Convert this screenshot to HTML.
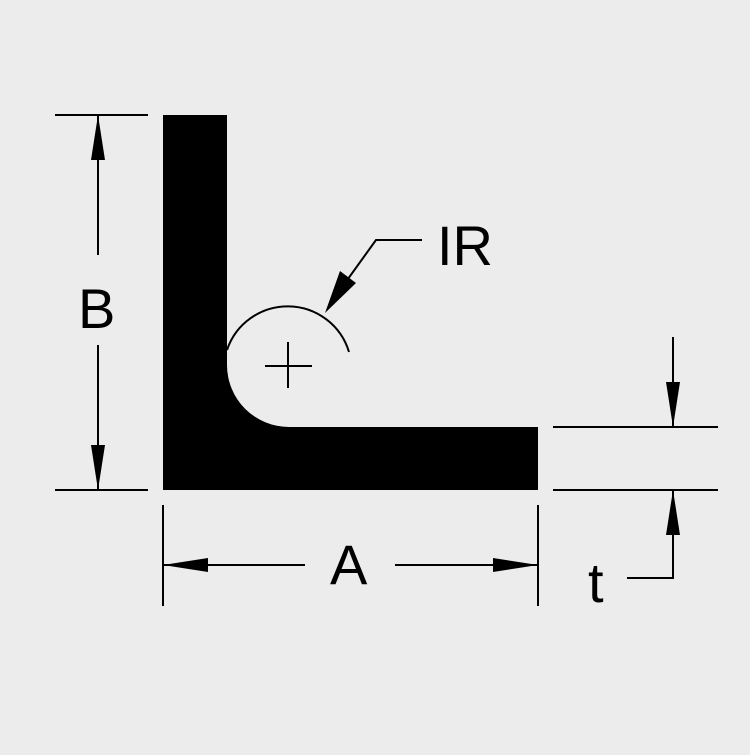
<!DOCTYPE html>
<html><head><style>html,body{margin:0;padding:0;background:#ececec}</style></head><body>
<svg width="750" height="750" viewBox="0 0 750 750" xmlns="http://www.w3.org/2000/svg">
<rect width="750" height="750" fill="#ececec"/>
<path d="M163 115 H227 V365 A62 62 0 0 0 289 427 H538 V490 H163 Z" fill="#000"/>
<g stroke="#000" stroke-width="2" fill="none">
<path d="M227 350 A64 64 0 0 1 349 352"/>
<line x1="265" y1="366" x2="312" y2="366"/><line x1="288" y1="342" x2="288" y2="388"/>
<polyline points="340,290 376,240 422,240"/>
<line x1="55" y1="115" x2="148" y2="115"/><line x1="55" y1="490" x2="148" y2="490"/>
<line x1="98" y1="115" x2="98" y2="255"/><line x1="98" y1="345" x2="98" y2="490"/>
<line x1="163" y1="505" x2="163" y2="606"/><line x1="538" y1="505" x2="538" y2="606"/>
<line x1="163" y1="565" x2="305" y2="565"/><line x1="395" y1="565" x2="538" y2="565"/>
<line x1="553" y1="427" x2="718" y2="427"/><line x1="553" y1="490" x2="718" y2="490"/>
<line x1="673" y1="337" x2="673" y2="427"/>
<polyline points="673,490 673,578 627,578"/>
</g>
<g fill="#000">
<polygon points="325,313 340,271 356,283"/>
<polygon points="98,115 91,160 105,160"/><polygon points="98,490 91,445 105,445"/>
<polygon points="163,565 208,558 208,572"/><polygon points="538,565 493,558 493,572"/>
<polygon points="673,427 666,382 680,382"/><polygon points="673,490 666,535 680,535"/>
</g>
<g font-family="Liberation Sans, sans-serif" font-size="56" fill="#000">
<text x="78" y="328">B</text>
<text x="330" y="584">A</text>
<text x="437" y="265">IR</text>
<text x="588" y="602">t</text>
</g>
</svg>
</body></html>
